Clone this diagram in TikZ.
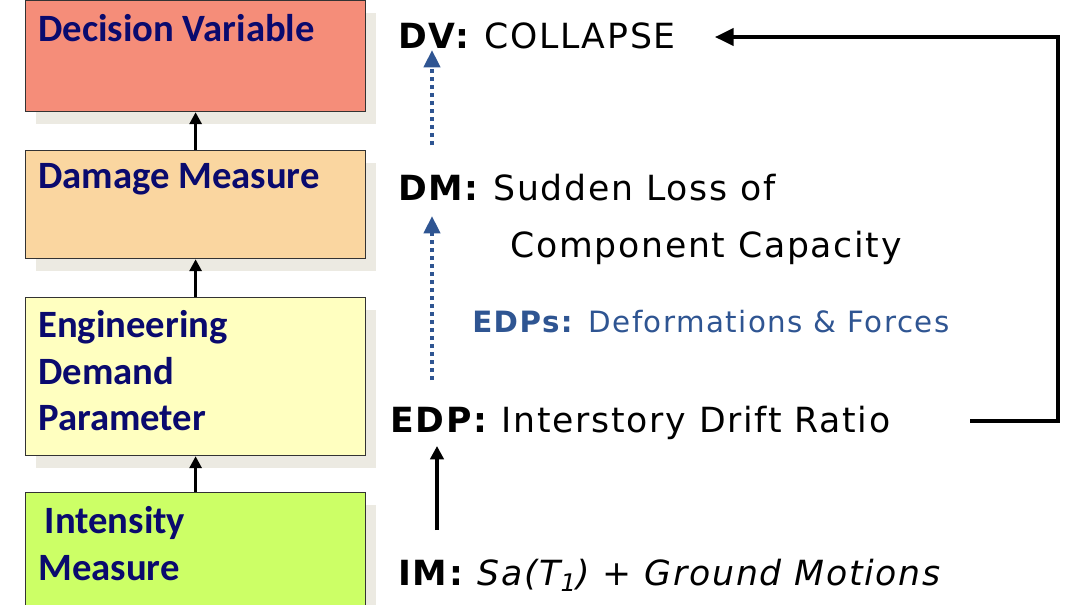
\documentclass[tikz,border=0pt]{standalone}
\usepackage{fontspec}
\setmainfont{DejaVu Sans}
\newfontfamily\boxfont{Carlito}
\newfontfamily\wide[LetterSpace=5]{DejaVu Sans}
\usetikzlibrary{shadows,arrows.meta}
\definecolor{navy}{HTML}{0A0A6E}
\definecolor{edpblue}{HTML}{2F5592}
\definecolor{shade}{HTML}{ECEAE2}
\tikzset{
  box/.style={draw=black!80, line width=0.9pt, anchor=north west, minimum width=340*0.75pt,
    drop shadow={shadow xshift=8pt, shadow yshift=-9pt, fill=shade, opacity=1}},
  boxtxt/.style={anchor=north west, align=left, text=navy, inner sep=0pt, font=\boxfont\bfseries\fontsize{29}{35}\selectfont},
  item/.style={anchor=base west, font=\wide\fontsize{26}{38}\selectfont, inner sep=0pt},
  up/.style={-{Triangle[length=9pt,width=9pt]}, line width=2.6pt},
  dots/.style={-{Triangle[length=13pt,width=12pt]}, edpblue, line width=3pt, dash pattern=on 3pt off 3pt}
}
\begin{document}
\begin{tikzpicture}[x=0.75pt, y=-0.75pt]
\useasboundingbox (0,0) rectangle (1070,604);

% Boxes on the left
\node[box, fill={rgb,255:red,245;green,141;blue,121}, minimum height=111*0.75pt] (dv) at (25,0) {};
\node[box, fill={rgb,255:red,250;green,214;blue,160}, minimum height=108*0.75pt] (dm) at (25,150) {};
\node[box, fill={rgb,255:red,255;green,255;blue,192}, minimum height=158*0.75pt] (edp) at (25,297) {};
\node[box, fill={rgb,255:red,204;green,255;blue,102}, minimum height=120*0.75pt] (im) at (25,492) {};
\node[boxtxt] (dvt) at (38,14) {Decision Variable};
\node[boxtxt] (dmt) at (38,163) {Damage Measure};
\node[boxtxt] (edpt) at (38,310) {Engineering\\Demand\\Parameter};
\node[boxtxt] (imt) at (38,506) {\,Intensity\\Measure};
\draw[up] (dm.north) -- (dv.south);
\draw[up] (edp.north) -- (dm.south);
\draw[up] (im.north) -- (edp.south);

% Texts on the right
\node[item] (dvl) at (398,48) {\textbf{DV:} COLLAPSE};
\node[item] (dml) at (398,200) {\textbf{DM:} Sudden Loss of};
\node[item] (dml2) at (510,257) {Component Capacity};
\node[item, text=edpblue, font=\wide\fontsize{22}{30}\selectfont] (edps) at (472,332) {\textbf{EDPs:} Deformations \& Forces};
\node[item] (edpl) at (390,432) {\textbf{EDP:} Interstory Drift Ratio};
\node[item] (iml) at (398,585) {\textbf{IM:} \textit{Sa(T\textsubscript{1}) + Ground Motions}};

% Connectors
\coordinate (a1) at (432,380);
\coordinate (a2) at (432,145);
\draw[dots] (a1) -- (432,216);
\draw[dots] (a2) -- (432,50);
\draw[-{Triangle[length=10pt,width=10pt]}, line width=2.6pt] (437,530) -- (437,446);
\coordinate (fb) at (970,421);
\coordinate (fc) at (1058,421);
\coordinate (fd) at (1058,37);
\coordinate (fe) at (715,37);
\draw[-{Triangle[length=14pt,width=13pt]}, line width=2.6pt] (fb) -- (fc) -- (fd) -- (fe);
\end{tikzpicture}
\end{document}
